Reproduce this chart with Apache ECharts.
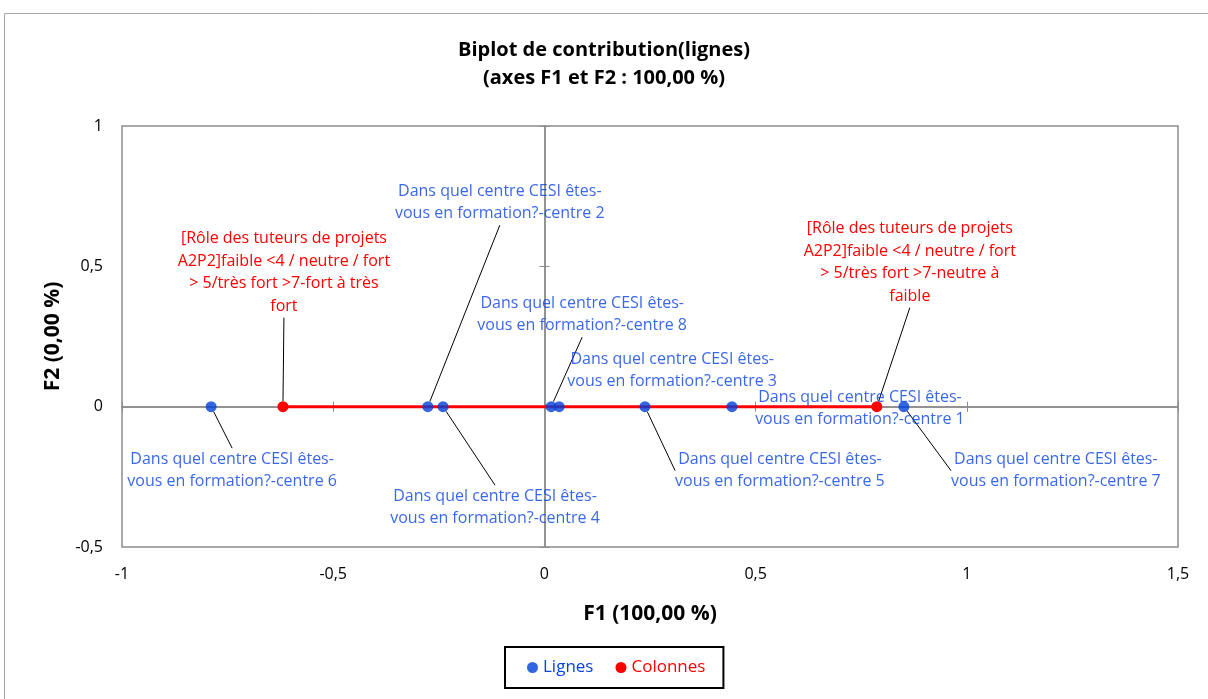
<!DOCTYPE html>
<html>
<head>
<meta charset="utf-8">
<script src="https://cdn.jsdelivr.net/npm/echarts@6/dist/echarts.min.js"></script>
<style>html,body{margin:0;padding:0;background:#fff}#c{width:1208px;height:699px}</style>
</head>
<body>
<div id="c"></div>
<script>
// ---- data ----
const rowNames = [
  'Dans quel centre CESI êtes-\nvous en formation?-centre 6',
  'Dans quel centre CESI êtes-\nvous en formation?-centre 2',
  'Dans quel centre CESI êtes-\nvous en formation?-centre 4',
  'Dans quel centre CESI êtes-\nvous en formation?-centre 8',
  'Dans quel centre CESI êtes-\nvous en formation?-centre 3',
  'Dans quel centre CESI êtes-\nvous en formation?-centre 5',
  'Dans quel centre CESI êtes-\nvous en formation?-centre 1',
  'Dans quel centre CESI êtes-\nvous en formation?-centre 7'
];
const rowF1 = [-0.789, -0.276, -0.240, 0.016, 0.035, 0.238, 0.444, 0.851];
const rowF2 = [0, 0, 0, 0, 0, 0, 0, 0];
const colNames = [
  '[Rôle des tuteurs de projets\nA2P2]faible <4 / neutre / fort\n> 5/très fort >7-fort à très\nfort',
  '[Rôle des tuteurs de projets\nA2P2]faible <4 / neutre / fort\n> 5/très fort >7-neutre à\nfaible'
];
const colF1 = [-0.619, 0.787];
const colF2 = [0, 0];
const xTicks = [-1, -0.5, 0, 0.5, 1, 1.5];
const yTicks = [-0.5, 0, 0.5, 1];

// ---- label placement (styling, pixels) ----
const rowLabelOffsets = [[21,64],[72,-204],[52,101],[31,-92],[113,-36],[135,64],[128,2],[152,64]];
const rowLabelLine = [true,true,true,true,false,true,false,true];
const colLabelOffsets = [[1,-134],[33,-144]];

const BLUE = '#0040D8', BLUE_TXT = '#0A42E4', RED = '#FF0000';
const FONT = 'Open Sans';
const fmt = v => String(v).replace('.', ',');

const chart = echarts.init(document.getElementById('c'));
const zeroAxisCommon = {
  type: 'value', min: xTicks[0], max: xTicks[xTicks.length-1], interval: 0.5,
  axisLabel: {show: false}, splitLine: {show: false}
};
const option = {
  animation: false,
  textStyle: {fontFamily: FONT},
  graphic: [{
    type: 'rect', shape: {x: 4.5, y: 13.5, width: 1300, height: 800},
    style: {fill: 'none', stroke: '#a6a6a6', lineWidth: 1}, silent: true, z: -10
  }],
  title: {
    text: 'Biplot de contribution(lignes)\n(axes F1 et F2 : 100,00 %)',
    left: 'center', top: 31,
    textStyle: {fontFamily: FONT, fontSize: 20, fontWeight: 'bold', color: '#000', lineHeight: 28}
  },
  legend: {
    top: 647, left: 505,
    data: [
      {name: 'Lignes', textStyle: {color: BLUE_TXT}},
      {name: 'Colonnes', textStyle: {color: RED}}
    ],
    icon: 'circle', itemWidth: 11, itemHeight: 11, itemGap: 22,
    borderColor: '#000', borderWidth: 2, padding: [12, 18, 12, 22],
    textStyle: {fontFamily: FONT, fontSize: 17}
  },
  grid: {left: 122, right: 30, top: 126, bottom: 152, show: true, borderColor: '#8c8c8c', borderWidth: 1.5},
  xAxis: [
    {
      type: 'value', min: xTicks[0], max: xTicks[xTicks.length-1], interval: 0.5, position: 'bottom',
      name: 'F1 (100,00 %)', nameLocation: 'middle', nameGap: 57,
      nameTextStyle: {fontFamily: FONT, fontSize: 21, fontWeight: 'bold', color: '#000'},
      axisLine: {show: false, onZero: false}, axisTick: {show: false}, splitLine: {show: false},
      axisLabel: {formatter: fmt, color: '#000', fontSize: 16, margin: 19}
    },
    Object.assign({}, zeroAxisCommon, {
      axisLine: {show: true, onZero: true, onZeroAxisIndex: 0, lineStyle: {color: '#8c8c8c', width: 1.5}},
      axisTick: {show: true, inside: true, length: 5, lineStyle: {color: '#8c8c8c'}}
    }),
    Object.assign({}, zeroAxisCommon, {
      axisLine: {show: true, onZero: true, onZeroAxisIndex: 0, lineStyle: {color: '#8c8c8c', width: 1.5}},
      axisTick: {show: true, inside: false, length: 5, lineStyle: {color: '#8c8c8c'}}
    })
  ],
  yAxis: [
    {
      type: 'value', min: yTicks[0], max: yTicks[yTicks.length-1], interval: 0.5, position: 'left',
      name: 'F2 (0,00 %)', nameLocation: 'middle', nameGap: 58,
      nameTextStyle: {fontFamily: FONT, fontSize: 21, fontWeight: 'bold', color: '#000'},
      axisLine: {show: false, onZero: false}, axisTick: {show: false}, splitLine: {show: false},
      axisLabel: {formatter: fmt, color: '#000', fontSize: 16, margin: 19}
    },
    {
      type: 'value', min: yTicks[0], max: yTicks[yTicks.length-1], interval: 0.5,
      axisLabel: {show: false}, splitLine: {show: false},
      axisLine: {show: true, onZero: true, onZeroAxisIndex: 0, lineStyle: {color: '#8c8c8c', width: 1.5}},
      axisTick: {show: true, inside: true, length: 5, lineStyle: {color: '#8c8c8c'}}
    },
    {
      type: 'value', min: yTicks[0], max: yTicks[yTicks.length-1], interval: 0.5,
      axisLabel: {show: false}, splitLine: {show: false},
      axisLine: {show: true, onZero: true, onZeroAxisIndex: 0, lineStyle: {color: '#8c8c8c', width: 1.5}},
      axisTick: {show: true, inside: false, length: 5, lineStyle: {color: '#8c8c8c'}}
    }
  ],
  series: [
    {
      name: 'Colonnes', type: 'line', xAxisIndex: 0, yAxisIndex: 0,
      data: colF1.map((x, i) => ({value: [x, colF2[i]], name: colNames[i]})),
      symbol: 'circle', symbolSize: 11, showAllSymbol: true,
      itemStyle: {color: RED}, lineStyle: {color: RED, width: 3},
      label: {
        show: true, position: 'inside', formatter: p => p.name,
        color: RED, fontFamily: FONT, fontSize: 16, lineHeight: 22.5, align: 'center', verticalAlign: 'middle'
      },
      labelLine: {show: true, lineStyle: {color: '#000', width: 1}},
      labelLayout: p => ({dx: colLabelOffsets[p.dataIndex][0], dy: colLabelOffsets[p.dataIndex][1]}),
      z: 3
    },
    {
      name: 'Lignes', type: 'scatter', xAxisIndex: 0, yAxisIndex: 0,
      data: rowF1.map((x, i) => ({
        value: [x, rowF2[i]], name: rowNames[i],
        labelLine: {show: rowLabelLine[i]}
      })),
      symbol: 'circle', symbolSize: 11,
      itemStyle: {color: BLUE},
      label: {
        show: true, position: 'inside', formatter: p => p.name,
        color: BLUE_TXT, fontFamily: FONT, fontSize: 16, lineHeight: 22.5, align: 'center', verticalAlign: 'middle'
      },
      labelLine: {show: true, lineStyle: {color: '#000', width: 1}},
      labelLayout: p => ({dx: rowLabelOffsets[p.dataIndex][0], dy: rowLabelOffsets[p.dataIndex][1]}),
      z: 4
    }
  ]
};
chart.setOption(option);
</script>
</body>
</html>
